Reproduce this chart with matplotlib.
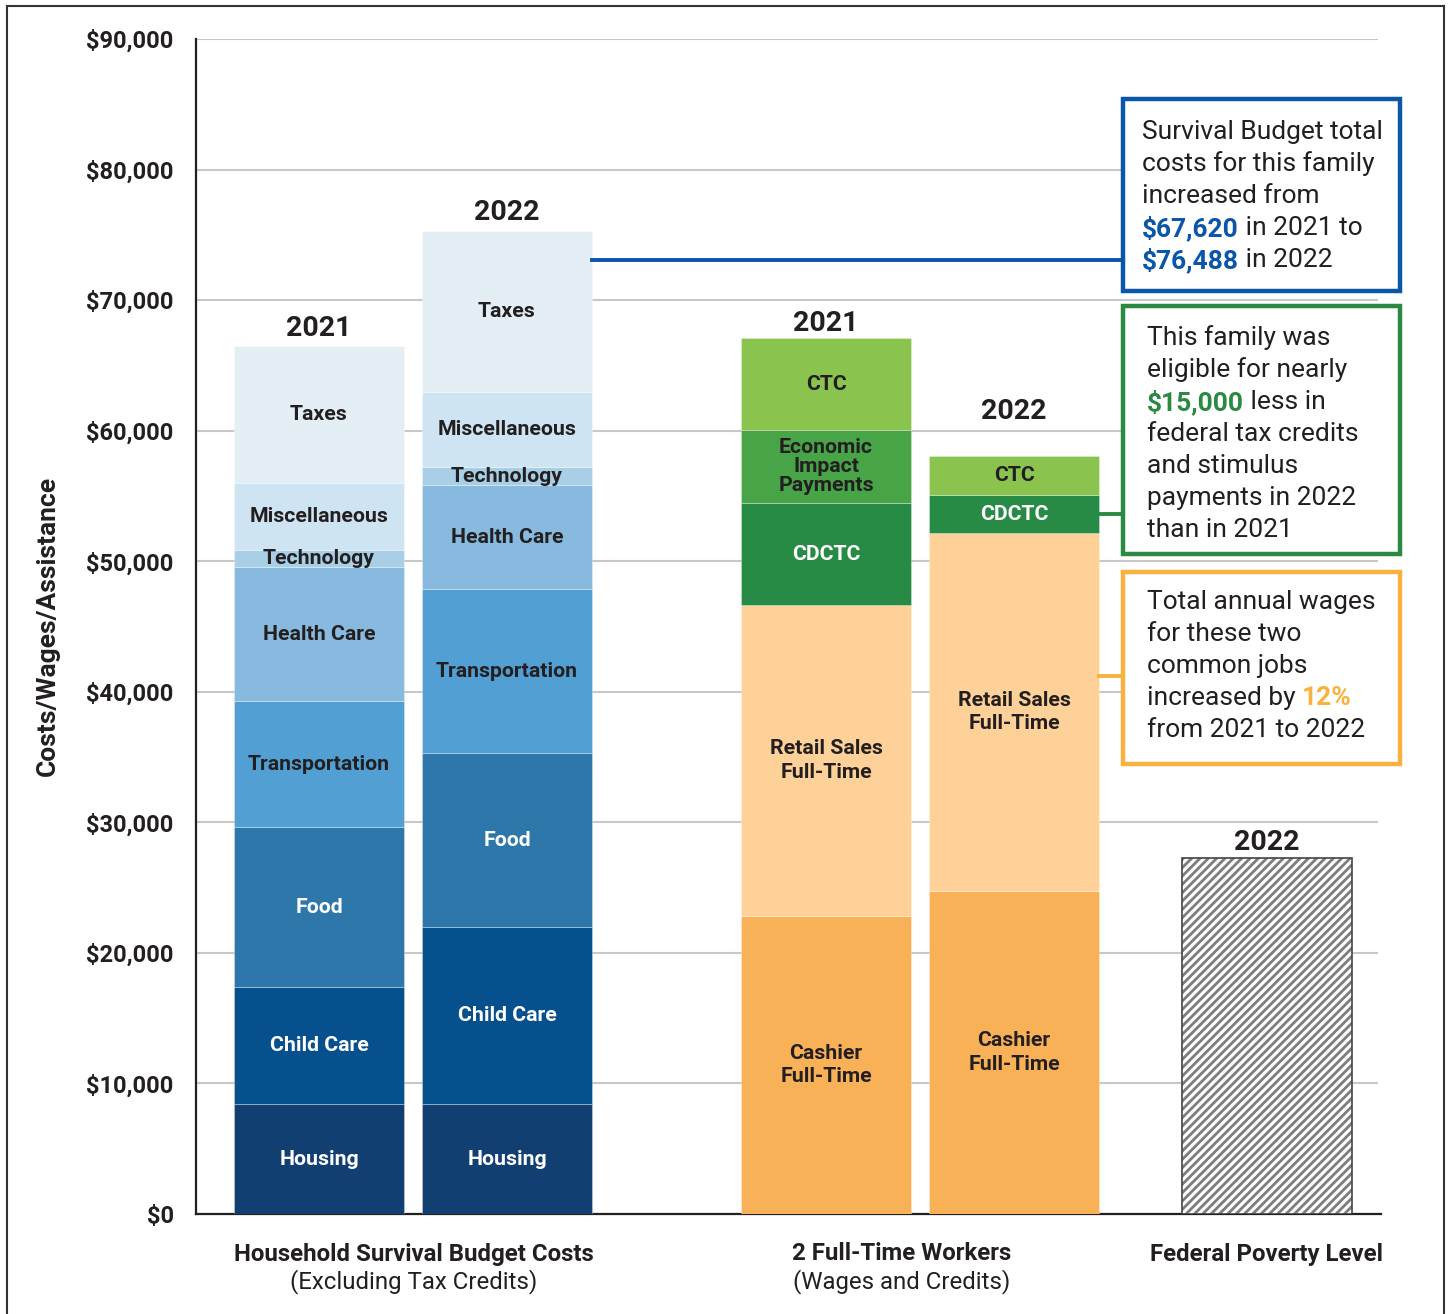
import matplotlib
matplotlib.use('Agg')
import matplotlib.pyplot as plt
import matplotlib.patches as patches
from matplotlib.lines import Line2D
from matplotlib.ticker import FuncFormatter
import numpy as np

plt.rcParams['font.family'] = ['Roboto', 'DejaVu Sans']
plt.rcParams['hatch.linewidth'] = 2.0

# 数据
survival_categories = ['Housing', 'Child Care', 'Food', 'Transportation',
                       'Health Care', 'Technology', 'Miscellaneous', 'Taxes']
survival_2021 = [8420, 8960, 12250, 9650, 10260, 1340, 5090, 10510]
survival_2022 = [8420, 13560, 13320, 12560, 7960, 1380, 5740, 12330]

worker_categories = ['Cashier\nFull-Time', 'Retail Sales\nFull-Time', 'CDCTC',
                     'Economic\nImpact\nPayments', 'CTC']
workers_2021 = [22820, 23810, 7830, 5570, 7070]
workers_2022 = [24730, 27440, 2880, 0, 3010]

fpl_2022 = 27280

group_labels = [('Household Survival Budget Costs', '(Excluding Tax Credits)'),
                ('2 Full-Time Workers', '(Wages and Credits)'),
                ('Federal Poverty Level', '')]
y_ticks = [0, 10000, 20000, 30000, 40000, 50000, 60000, 70000, 80000, 90000]

# 样式
survival_colors = ['#123f72', '#06508e', '#2e77ab', '#519fd3',
                   '#87bade', '#a9cfe7', '#cfe4f2', '#e4eff5']
survival_text = ['white', 'white', 'white', '#231f20',
                 '#231f20', '#231f20', '#231f20', '#231f20']
worker_colors = ['#f9b157', '#fdd198', '#278a45', '#47a447', '#8bc34f']
worker_text = ['#231f20', '#231f20', 'white', '#231f20', '#231f20']
DARK = '#231f20'
BLUE = '#0a56a8'
GREEN = '#2a8a42'
ORANGE = '#f9b23f'

W, H = 1450, 1314
fig = plt.figure(figsize=(W / 100, H / 100), dpi=100, facecolor='white')
ax = fig.add_axes([196 / W, 1 - 1214 / H, (1378 - 196) / W, (1214 - 39) / H])

pos = [0, 1, 2.697, 3.697, 5.043]
bw = 0.904


def stack(ax, x, values, colors, text_colors, labels, year, year_off):
    bottom = 0
    for v, c, tc, lab in zip(values, colors, text_colors, labels):
        if v <= 0:
            continue
        ax.bar(x, v, bottom=bottom, width=bw, color=c,
               edgecolor=(1, 1, 1, 0.35), linewidth=0.6, zorder=3)
        nl = lab.count('\n')
        ls = 1.0 if nl > 1 else 1.3
        ax.text(x, bottom + v / 2, lab, ha='center', va='center',
                color=tc, fontsize=15.3, fontweight='bold',
                linespacing=ls, zorder=4)
        bottom += v
    ax.annotate(year, (x, bottom), xytext=(0, year_off), textcoords='offset points',
                ha='center', va='bottom', fontsize=20.5, fontweight='bold',
                color=DARK, zorder=4)
    return bottom


tot_s21 = stack(ax, pos[0], survival_2021, survival_colors, survival_text,
                survival_categories, '2021', 3)
tot_s22 = stack(ax, pos[1], survival_2022, survival_colors, survival_text,
                survival_categories, '2022', 4)
tot_w21 = stack(ax, pos[2], workers_2021, worker_colors, worker_text,
                worker_categories, '2021', 1)
tot_w22 = stack(ax, pos[3], workers_2022, worker_colors, worker_text,
                worker_categories, '2022', 22)

# 联邦贫困线
ax.bar(pos[4], fpl_2022, width=bw, color='white', edgecolor='#7d7d7d',
       hatch='////', linewidth=0, zorder=3)
ax.bar(pos[4], fpl_2022, width=bw, fill=False, edgecolor='#444444',
       linewidth=1.2, zorder=4)
ax.annotate('2022', (pos[4], fpl_2022), xytext=(0, 1), textcoords='offset points',
            ha='center', va='bottom', fontsize=20.5, fontweight='bold', color=DARK)

ax.set_xlim(-0.654, 5.633)
ax.set_ylim(0, 90000)
ax.set_yticks(y_ticks)
ax.yaxis.set_major_formatter(FuncFormatter(lambda v, p: f'${v:,.0f}'))
ax.tick_params(axis='y', length=0, pad=16, labelsize=17, labelcolor=DARK)
for lab in ax.get_yticklabels():
    lab.set_fontweight('bold')
ax.set_xticks([])
ax.grid(axis='y', color='#c8c8c8', linewidth=1.5, zorder=0)
ax.set_axisbelow(True)
for s in ['top', 'right']:
    ax.spines[s].set_visible(False)
for s in ['left', 'bottom']:
    ax.spines[s].set_color(DARK)
    ax.spines[s].set_linewidth(1.6)
ax.spines['bottom'].set_bounds(-0.654, 5.65)

fig.text(48 / W, 1 - 626 / H, 'Costs/Wages/Assistance', rotation=90,
         ha='center', va='center', fontsize=19, fontweight='bold', color=DARK)

# 分组标签
group_x = [414, 902, 1266]
for gx, (l1, l2) in zip(group_x, group_labels):
    fig.text(gx / W, 1 - 1254 / H, l1, ha='center', va='center',
             fontsize=17.3, fontweight='bold', color=DARK)
    if l2:
        fig.text(gx / W, 1 - 1282 / H, l2, ha='center', va='center',
                 fontsize=17.3, color=DARK)

# 外框
for (x0, y0, x1, y1) in [(7, 1314, 7, 6), (7, 6, 1444, 6), (1444, 6, 1444, 1314)]:
    fig.add_artist(Line2D([x0 / W, x1 / W], [1 - y0 / H, 1 - y1 / H],
                          transform=fig.transFigure, color='#333333', lw=1.5))

# 注释框
renderer = fig.canvas.get_renderer()


def rich_line(x_px, y_px, parts, size=19):
    x = x_px
    for s, color, weight in parts:
        t = fig.text(x / W, 1 - y_px / H, s, color=color, fontsize=size,
                     fontweight=weight, ha='left', va='center', zorder=7)
        x += t.get_window_extent(renderer).width


def box(x0, y0, x1, y1, color):
    fig.add_artist(patches.Rectangle((x0 / W, 1 - y1 / H), (x1 - x0) / W, (y1 - y0) / H,
                                     transform=fig.transFigure, facecolor='white',
                                     edgecolor=color, linewidth=3.2, zorder=6))


def connector(x_px0, x_px1, y_px, color):
    fig.add_artist(Line2D([x_px0 / W, x_px1 / W], [1 - y_px / H, 1 - y_px / H],
                          transform=fig.transFigure, color=color, lw=2.8, zorder=5))


box(1123, 99, 1400, 291, BLUE)
box(1123, 306, 1400, 554, GREEN)
box(1123, 572, 1400, 764, ORANGE)

fig.canvas.draw()
# 连接线位置（由条形边缘推得）
to_px = lambda x, y: ax.transData.transform((x, y))
xb2 = to_px(pos[1] + bw / 2, 0)[0]
xw2 = to_px(pos[3] + bw / 2, 0)[0]
y_green = H - to_px(0, sum(workers_2022[:2]) + workers_2022[2] / 2)[1]
connector(xb2, 1123, 260, BLUE)
connector(xw2, 1123, y_green, GREEN)
connector(xw2, 1123, 676, ORANGE)

N = 'normal'
B = 'bold'
blue_lines = [[('Survival Budget total', DARK, N)],
              [('costs for this family', DARK, N)],
              [('increased from', DARK, N)],
              [('$67,620', BLUE, B), (' in 2021 to', DARK, N)],
              [('$76,488', BLUE, B), (' in 2022', DARK, N)]]
for i, parts in enumerate(blue_lines):
    rich_line(1142, 132 + 32 * i, parts)

green_lines = [[('This family was', DARK, N)],
               [('eligible for nearly', DARK, N)],
               [('$15,000', GREEN, B), (' less in', DARK, N)],
               [('federal tax credits', DARK, N)],
               [('and stimulus', DARK, N)],
               [('payments in 2022', DARK, N)],
               [('than in 2021', DARK, N)]]
for i, parts in enumerate(green_lines):
    rich_line(1147, 338 + 32 * i, parts)

orange_lines = [[('Total annual wages', DARK, N)],
                [('for these two', DARK, N)],
                [('common jobs', DARK, N)],
                [('increased by ', DARK, N), ('12%', ORANGE, B)],
                [('from 2021 to 2022', DARK, N)]]
for i, parts in enumerate(orange_lines):
    rich_line(1147, 602 + 32 * i, parts)

fig.savefig('out.png', dpi=100, facecolor='white')
